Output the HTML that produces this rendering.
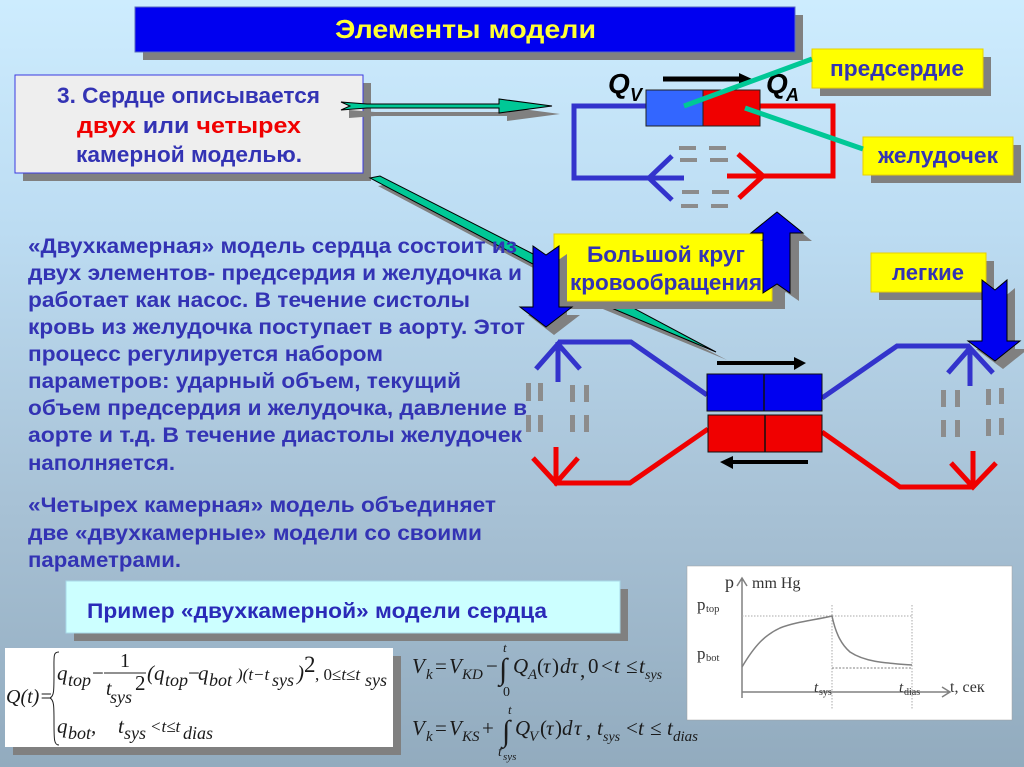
<!DOCTYPE html>
<html><head><meta charset="utf-8"><style>
html,body{margin:0;padding:0;background:#b0cbde}
svg{display:block}
.b{font-family:"Liberation Sans",sans-serif;font-weight:bold;fill:#3333b4}
.t{font-size:21px}
.s{font-family:"Liberation Serif",serif;fill:#1a1a1a}
.i{font-style:italic}
.g{font-family:"Liberation Serif",serif;fill:#333}
</style></head><body>
<svg width="1024" height="767" viewBox="0 0 1024 767" xmlns="http://www.w3.org/2000/svg">
<defs><linearGradient id="bg" x1="0" y1="0" x2="0" y2="1">
<stop offset="0" stop-color="#cdecfe"/><stop offset=".3" stop-color="#bcdcf2"/><stop offset=".65" stop-color="#a8c2d6"/><stop offset="1" stop-color="#92abbe"/></linearGradient></defs>
<rect width="1024" height="767" fill="url(#bg)"/>

<!-- title -->
<rect x="143" y="15" width="660" height="45" fill="#808080"/>
<rect x="135" y="7" width="660" height="45" fill="#0000f0" stroke="#5a6ac0" stroke-width="1"/>
<text class="b" x="335" y="38" font-size="26" style="fill:#ffff33" textLength="261" lengthAdjust="spacingAndGlyphs">Элементы модели</text>

<!-- box 3 -->
<rect x="23" y="83" width="348" height="98" fill="#808080"/>
<rect x="15" y="75" width="348" height="98" fill="#eeeeee" stroke="#3a3ae0" stroke-width="1"/>
<text class="b" x="57" y="103" font-size="22" textLength="263" lengthAdjust="spacingAndGlyphs">3. Сердце описывается</text>
<text class="b" x="77" y="133" font-size="22" textLength="224" lengthAdjust="spacingAndGlyphs" style="fill:#3333b4"><tspan style="fill:#f00000">двух</tspan> или <tspan style="fill:#f00000">четырех</tspan></text>
<text class="b" x="76" y="162" font-size="22" textLength="226" lengthAdjust="spacingAndGlyphs">камерной моделью.</text>

<!-- green arrows -->
<polygon points="349,110 375,112 507,112 507,107 560,114 507,121 507,116 375,116 349,118" fill="#808080"/>
<polygon points="341,102 367,104 499,104 499,99 552,106 499,113 499,108 367,108 341,110 350,106" fill="#00c896" stroke="#000" stroke-width="1"/>
<polygon points="378,186 388,184 543,263 598,293 727,360 598,307 541,272" fill="#808080"/>
<polygon points="370,178 380,176 535,255 590,285 716,352 590,299 533,264" fill="#00c896" stroke="#000" stroke-width="1"/>

<!-- two-chamber schematic -->
<g fill="none" stroke-width="5">
<path d="M646,106H574V178H684M672,156L649,178L672,200" stroke="#3333cc"/>
<path d="M760,106H833V176H727M738,154L763,176L739,198" stroke="#f00000"/>
</g>
<rect x="646" y="90" width="57" height="36" fill="#3366ff" stroke="#222" stroke-width="1"/>
<rect x="703" y="90" width="57" height="36" fill="#f00000" stroke="#222" stroke-width="1"/>
<g fill="#8c8c8c">
<rect x="679" y="146" width="17" height="4"/><rect x="709" y="146" width="17" height="4"/>
<rect x="680" y="158" width="17" height="4"/><rect x="710" y="158" width="18" height="4"/>
<rect x="682" y="190" width="17" height="4"/><rect x="712" y="190" width="17" height="4"/>
<rect x="681" y="204" width="17" height="4"/><rect x="711" y="204" width="17" height="4"/>
</g>
<path d="M663,79H742" stroke="#000" stroke-width="5"/>
<polygon points="739,73 752,79 739,85" fill="#000"/>
<text x="608" y="93" font-family="Liberation Sans" font-size="28" font-weight="bold" font-style="italic" fill="#000">Q</text>
<text x="630" y="101" font-family="Liberation Sans" font-size="18" font-weight="bold" font-style="italic" fill="#000">V</text>
<text x="766" y="93" font-family="Liberation Sans" font-size="28" font-weight="bold" font-style="italic" fill="#000">Q</text>
<text x="786" y="101" font-family="Liberation Sans" font-size="18" font-weight="bold" font-style="italic" fill="#000">A</text>

<!-- labels top right -->
<rect x="820" y="57" width="171" height="39" fill="#808080"/>
<rect x="812" y="49" width="171" height="39" fill="#ffff00" stroke="#e8d000"/>
<text class="b" x="830" y="76" font-size="22" textLength="134" lengthAdjust="spacingAndGlyphs">предсердие</text>
<rect x="871" y="145" width="150" height="38" fill="#808080"/>
<rect x="863" y="137" width="150" height="38" fill="#ffff00" stroke="#e8d000"/>
<text class="b" x="878" y="163" font-size="22" textLength="120" lengthAdjust="spacingAndGlyphs">желудочек</text>
<path d="M812,59L684,106M745,108L863,149" stroke="#00c896" stroke-width="5" fill="none"/>

<!-- body text -->
<g class="b t">
<text x="28" y="253" textLength="489" lengthAdjust="spacingAndGlyphs">«Двухкамерная» модель сердца состоит из</text>
<text x="28" y="280" textLength="494" lengthAdjust="spacingAndGlyphs">двух элементов- предсердия и желудочка и</text>
<text x="28" y="307" textLength="442" lengthAdjust="spacingAndGlyphs">работает как насос. В течение систолы</text>
<text x="28" y="334" textLength="497" lengthAdjust="spacingAndGlyphs">кровь из желудочка поступает в аорту. Этот</text>
<text x="28" y="361" textLength="355" lengthAdjust="spacingAndGlyphs">процесс регулируется набором</text>
<text x="28" y="388" textLength="433" lengthAdjust="spacingAndGlyphs">параметров: ударный объем, текущий</text>
<text x="28" y="415" textLength="499" lengthAdjust="spacingAndGlyphs">объем предсердия и желудочка, давление в</text>
<text x="28" y="442" textLength="494" lengthAdjust="spacingAndGlyphs">аорте и т.д.  В течение диастолы желудочек</text>
<text x="28" y="470" textLength="147" lengthAdjust="spacingAndGlyphs">наполняется.</text>
<text x="28" y="512" textLength="468" lengthAdjust="spacingAndGlyphs">«Четырех камерная» модель объединяет</text>
<text x="28" y="540" textLength="454" lengthAdjust="spacingAndGlyphs">две «двухкамерные» модели со своими</text>
<text x="28" y="567" textLength="153" lengthAdjust="spacingAndGlyphs">параметрами.</text>
</g>

<!-- big circle box -->
<rect x="567" y="242" width="218" height="67" fill="#808080"/>
<rect x="554" y="234" width="218" height="67" fill="#ffff00" stroke="#e8d000"/>
<text class="b" x="587" y="262" font-size="22" textLength="158" lengthAdjust="spacingAndGlyphs">Большой круг</text>
<text class="b" x="570" y="290" font-size="22" textLength="192" lengthAdjust="spacingAndGlyphs">кровообращения</text>
<!-- arrows -->
<polygon points="541,254 554,263 567,254 567,315 580,315 554,335 528,315 541,315" fill="#808080"/>
<polygon points="533,246 546,255 559,246 559,307 572,307 546,327 520,307 533,307" fill="#0000f0" stroke="#000" stroke-width="1"/>
<polygon points="786,220 812,241 799,241 799,301 786,292 773,301 773,241 760,241" fill="#808080"/>
<polygon points="777,212 803,233 790,233 790,293 777,284 763,293 763,233 751,233" fill="#0000f0" stroke="#000" stroke-width="1"/>

<!-- legkie -->
<rect x="879" y="261" width="115" height="39" fill="#808080"/>
<rect x="871" y="253" width="115" height="39" fill="#ffff00" stroke="#e8d000"/>
<text class="b" x="892" y="280" font-size="22" textLength="72" lengthAdjust="spacingAndGlyphs">легкие</text>

<!-- four chamber -->
<g fill="none" stroke-width="5">
<path d="M707,395L631,342H558M558,382V342M536,369L558,344L580,369" stroke="#3333cc"/>
<path d="M708,429L630,483H554M556,447V483M533,458L556,483L578,458" stroke="#f00000"/>
<path d="M822,398L897,346H970M970,386V347M948,373L970,348L993,373" stroke="#3333cc"/>
<path d="M822,432L900,487H973M973,451V487M951,463L973,487L996,463" stroke="#f00000"/>
</g>
<polygon points="990,288 1003,298 1015,288 1015,349 1028,349 1003,369 976,349 990,349" fill="#808080"/>
<polygon points="982,280 995,290 1007,280 1007,341 1020,341 995,361 968,341 982,341" fill="#0000f0" stroke="#000" stroke-width="1"/>
<rect x="707" y="374" width="115" height="37" fill="#0000f0" stroke="#111" stroke-width="1"/>
<rect x="708" y="415" width="114" height="37" fill="#f00000" stroke="#111" stroke-width="1"/>
<path d="M764,374V411M765,415V452" stroke="#111" stroke-width="1.5"/>
<path d="M717,363H796" stroke="#000" stroke-width="4"/><polygon points="794,357 806,363 794,370" fill="#000"/>
<path d="M808,462H730" stroke="#000" stroke-width="4"/><polygon points="733,456 720,462 733,469" fill="#000"/>
<g fill="#8c8c8c">
<rect x="526" y="383" width="5" height="18"/><rect x="538" y="383" width="5" height="18"/><rect x="570" y="385" width="5" height="17"/><rect x="584" y="385" width="5" height="17"/>
<rect x="526" y="415" width="5" height="17"/><rect x="538" y="415" width="5" height="17"/><rect x="570" y="415" width="5" height="17"/><rect x="584" y="415" width="5" height="17"/>
<rect x="941" y="390" width="5" height="17"/><rect x="955" y="390" width="5" height="17"/><rect x="986" y="389" width="5" height="16"/><rect x="999" y="388" width="5" height="16"/>
<rect x="941" y="420" width="5" height="17"/><rect x="955" y="420" width="5" height="17"/><rect x="986" y="419" width="5" height="17"/><rect x="999" y="418" width="5" height="17"/>
</g>

<!-- example box -->
<rect x="74" y="589" width="554" height="52" fill="#808080"/>
<rect x="66" y="581" width="554" height="52" fill="#ccffff" stroke="#a8d8e8"/>
<text class="b" x="87" y="618" font-size="21" textLength="460" lengthAdjust="spacingAndGlyphs" style="fill:#2a2ab8">Пример «двухкамерной» модели сердца</text>

<!-- formula 1 -->
<rect x="13" y="656" width="388" height="99" fill="#808080"/>
<rect x="5" y="648" width="388" height="99" fill="#fff"/>
<g class="s i" font-size="21">
<text x="6" y="703" font-size="20">Q(t)=</text>
<path d="M59,652C53,652 54,656 54,672C54,692 54,696 50,698C54,700 54,706 54,722C54,740 54,745 59,745" fill="none" stroke="#222" stroke-width="1"/>
<text x="57" y="680">q</text><text x="68" y="686" font-size="18">top</text>
<text x="92" y="680" font-style="normal">−</text>
<path d="M104,673H146" stroke="#222" stroke-width="1"/>
<text x="120" y="667" font-style="normal" font-size="20">1</text>
<text x="106" y="695" font-size="20">t</text><text x="110" y="703" font-size="18">sys</text>
<text x="135" y="690" font-style="normal" font-size="21">2</text>
<text x="147" y="680">(q</text><text x="165" y="686" font-size="18">top</text>
<text x="188" y="680" font-style="normal">−</text>
<text x="198" y="680">q</text><text x="209" y="686" font-size="18">bot</text>
<text x="237" y="680" font-size="17">)(t−t</text><text x="272" y="686" font-size="18">sys</text>
<text x="297" y="680">)</text><text x="304" y="672" font-style="normal" font-size="23">2</text>
<text x="315" y="680" font-size="17" font-style="normal">, 0≤<tspan font-style="italic">t</tspan>≤<tspan font-style="italic">t</tspan></text><text x="365" y="686" font-size="18">sys</text>
<text x="57" y="733">q</text><text x="68" y="739" font-size="18">bot</text><text x="91" y="733">,</text>
<text x="118" y="733">t</text><text x="124" y="739" font-size="18">sys</text>
<text x="150" y="732" font-size="17">&lt;t≤t</text><text x="183" y="739" font-size="18">dias</text>
</g>

<!-- formula 2 -->
<g class="s i" font-size="21">
<text x="412" y="673">V</text><text x="426" y="679" font-size="15">k</text>
<text x="435" y="673" font-style="normal">=</text><text x="449" y="673">V</text><text x="462" y="679" font-size="15">KD</text>
<text x="486" y="673" font-style="normal">−</text>
<text x="499" y="679" font-size="30" font-style="normal">∫</text>
<text x="503" y="652" font-size="13">t</text><text x="503" y="696" font-size="14" font-style="normal">0</text>
<text x="513" y="673">Q</text><text x="528" y="679" font-size="15">A</text>
<text x="537" y="673" font-style="normal">(</text><text x="543" y="673">τ</text><text x="552" y="673" font-style="normal">)</text>
<text x="560" y="673">dτ</text><text x="580" y="677" font-style="normal">,</text><text x="588" y="673" font-style="normal">0</text>
<text x="601" y="673" font-style="normal">&lt;</text><text x="614" y="673">t</text><text x="626" y="673" font-style="normal">≤</text><text x="639" y="673">t</text><text x="645" y="679" font-size="14">sys</text>
<text x="412" y="735">V</text><text x="426" y="741" font-size="15">k</text>
<text x="435" y="735" font-style="normal">=</text><text x="449" y="735">V</text><text x="462" y="741" font-size="15">KS</text>
<text x="482" y="735" font-style="normal">+</text>
<text x="502" y="741" font-size="30" font-style="normal">∫</text>
<text x="508" y="714" font-size="13">t</text><text x="498" y="756" font-size="14">t</text><text x="503" y="760" font-size="11">sys</text>
<text x="515" y="735">Q</text><text x="529" y="741" font-size="15">V</text>
<text x="540" y="735" font-style="normal">(</text><text x="546" y="735">τ</text><text x="555" y="735" font-style="normal">)</text>
<text x="562" y="735">d</text><text x="574" y="735">τ</text><text x="586" y="737" font-style="normal">,</text>
<text x="597" y="735">t</text><text x="603" y="741" font-size="14">sys</text>
<text x="626" y="735" font-style="normal">&lt;</text><text x="638" y="735">t</text><text x="650" y="735" font-style="normal">≤</text><text x="667" y="735">t</text><text x="673" y="741" font-size="15">dias</text>
</g>

<!-- chart -->
<rect x="687" y="566" width="325" height="154" fill="#fff" stroke="#a0a0a0" stroke-width=".5"/>
<g fill="none" stroke="#808080">
<path d="M742,698V578M737,586L742,578L747,586M742,692H949M942,687L950,692L942,697" stroke-width="1.5"/>
<path d="M742,616H912M832,605V710M912,605V710" stroke-width="1" stroke-dasharray="1.5 1.5" stroke="#aaa"/>
<path d="M832,668H912" stroke-width="1" stroke-dasharray="2 1.5"/>
<path d="M742,667C755,645 765,635 780,628C795,622 815,620 832,616C836,635 842,645 850,652C865,662 885,663 912,665" stroke-width="1.5"/>
</g>
<g class="g" font-size="16">
<text x="725" y="588" font-size="18">p</text><text x="752" y="588" font-size="16">mm Hg</text>
<text x="697" y="610" font-size="17">p</text><text x="706" y="612" font-size="10.5">top</text>
<text x="697" y="659" font-size="17">p</text><text x="706" y="661" font-size="10.5">bot</text>
<text x="814" y="692" font-style="italic" font-size="15">t</text><text x="819" y="695" font-size="10">sys</text>
<text x="899" y="692" font-style="italic" font-size="15">t</text><text x="904" y="695" font-size="10">dias</text>
<text x="950" y="692" font-size="16">t, сек</text>
</g>
</svg>
</body></html>
